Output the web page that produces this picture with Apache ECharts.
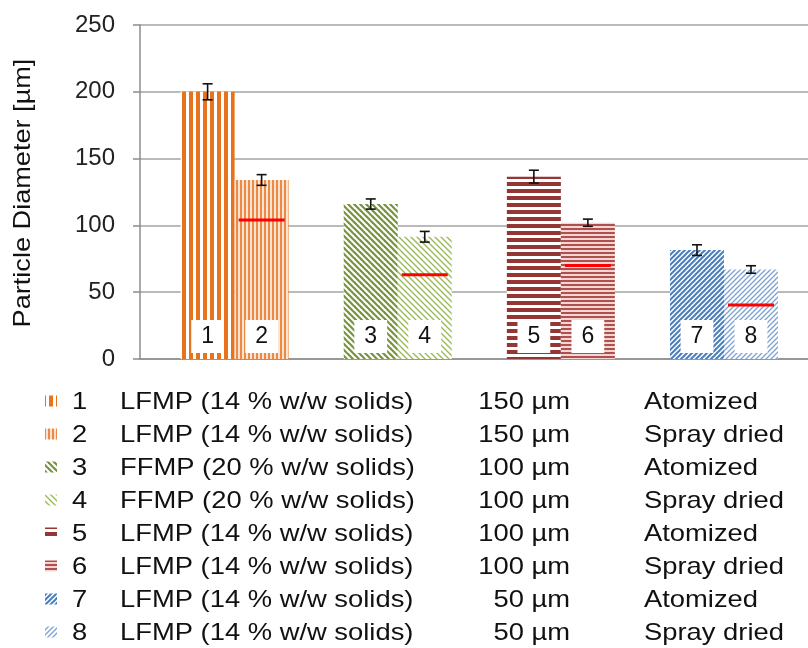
<!DOCTYPE html>
<html>
<head>
<meta charset="utf-8">
<script src="https://cdn.jsdelivr.net/npm/echarts@6/dist/echarts.min.js"></script>
<style>
html,body{margin:0;padding:0;background:#fff;}
#chart{width:808px;height:648px;}
</style>
</head>
<body>
<div id="chart"></div>
<script>
// ---- data ----
const groupIndex = [0, 1, 2, 3];
const atomized = [200, 116, 136.5, 81.5];
const sprayDried = [134, 91.5, 102, 67];
const atomizedErr = [6, 3.8, 4.8, 4];
const sprayDriedErr = [4, 4, 2.7, 2.8];
const redMarks = [104, 63, 70, 40.5];
const sampleIds = ['1', '2', '3', '4', '5', '6', '7', '8'];
const materials = ['LFMP (14 % w/w solids)', 'LFMP (14 % w/w solids)', 'FFMP (20 % w/w solids)', 'FFMP (20 % w/w solids)',
  'LFMP (14 % w/w solids)', 'LFMP (14 % w/w solids)', 'LFMP (14 % w/w solids)', 'LFMP (14 % w/w solids)'];
const nozzleSizes = ['150 µm', '150 µm', '100 µm', '100 µm', '100 µm', '100 µm', '50 µm', '50 µm'];
const processes = ['Atomized', 'Spray dried', 'Atomized', 'Spray dried', 'Atomized', 'Spray dried', 'Atomized', 'Spray dried'];
const yTicks = [0, 50, 100, 150, 200, 250];

// ---- pattern helpers (styles) ----
function stripes(dir, period, on, fg, bg) {
  const c = document.createElement('canvas');
  const ctx = c.getContext('2d');
  if (dir === 'v') { c.width = period; c.height = 2; }
  else { c.width = 2; c.height = period; }
  ctx.fillStyle = bg; ctx.fillRect(0, 0, c.width, c.height);
  ctx.fillStyle = fg;
  if (dir === 'v') ctx.fillRect(0, 0, on, 2); else ctx.fillRect(0, 0, 2, on);
  return { image: c, repeat: 'repeat' };
}
function diag(dir, P, lw, fg, bg) {
  const c = document.createElement('canvas');
  c.width = P; c.height = P;
  const ctx = c.getContext('2d');
  ctx.fillStyle = bg; ctx.fillRect(0, 0, P, P);
  ctx.strokeStyle = fg; ctx.lineWidth = lw;
  for (let k = -1; k <= 1; k++) {
    ctx.beginPath();
    if (dir === '\\') { ctx.moveTo(k * P - 1, -1); ctx.lineTo(k * P + P + 1, P + 1); }
    else { ctx.moveTo(k * P - 1, P + 1); ctx.lineTo(k * P + P + 1, -1); }
    ctx.stroke();
  }
  return { image: c, repeat: 'repeat' };
}
const patterns = [
  stripes('v', 7, 4, '#E8731E', '#ffffff'),
  stripes('v', 4, 2, '#EC8A45', '#FCE4D2'),
  diag('\\', 6, 2.2, '#77933C', '#ffffff'),
  diag('\\', 6, 1.4, '#9BBB59', '#ffffff'),
  stripes('h', 7, 4, '#943634', '#ffffff'),
  stripes('h', 4, 2, '#B0504D', '#F2D6D5'),
  diag('/', 5, 2.0, '#4A7EBB', '#ffffff'),
  diag('/', 5, 1.3, '#7EA3D3', '#ffffff')
];

const FONT = '"Liberation Sans", Arial, Helvetica, sans-serif';
const BAR_W = 54;

function barSeries(name, values, offset) {
  return {
    name: name,
    type: 'bar',
    barWidth: BAR_W,
    barGap: '0%',
    data: values.map((v, i) => ({
      value: [groupIndex[i], v],
      itemStyle: { color: patterns[i * 2 + offset] }
    })),
    label: {
      show: true,
      position: 'insideBottom',
      distance: 6,
      formatter: p => sampleIds[p.dataIndex * 2 + offset],
      backgroundColor: '#ffffff',
      padding: [4, 10, 3, 10],
      fontSize: 23,
      lineHeight: 26,
      color: '#111',
      fontFamily: FONT
    },
    z: 2
  };
}

const errData = [];
groupIndex.forEach((g, i) => {
  errData.push([g, atomized[i], atomizedErr[i], 0]);
  errData.push([g, sprayDried[i], sprayDriedErr[i], 1]);
});

// legend table graphics
const legendGraphics = [];
const ROW0 = 402.5, ROWH = 33;
sampleIds.forEach((id, i) => {
  const y = ROW0 + ROWH * i;
  const txt = (x, text, align) => ({
    type: 'text', x: x, y: y, scaleX: 1.14,
    style: { text: text, fill: '#111', fontSize: 24, fontFamily: FONT,
      align: align, textAlign: align, verticalAlign: 'middle', textVerticalAlign: 'middle' }
  });
  legendGraphics.push({
    type: 'rect', shape: { x: 45, y: y - 7, width: 12, height: 11 },
    style: { fill: patterns[i] }
  });
  legendGraphics.push(txt(72, id, 'left'));
  legendGraphics.push(txt(120, materials[i], 'left'));
  legendGraphics.push(txt(570, nozzleSizes[i], 'right'));
  legendGraphics.push(txt(644, processes[i], 'left'));
});
legendGraphics.push({
  type: 'text', x: 23, y: 193, rotation: Math.PI / 2, scaleX: 1.13,
  style: { text: 'Particle Diameter [µm]', fill: '#111', fontSize: 24, fontFamily: FONT,
    align: 'center', textAlign: 'center', verticalAlign: 'middle', textVerticalAlign: 'middle' }
});

const chart = echarts.init(document.getElementById('chart'), null, { renderer: 'canvas' });
chart.setOption({
  animation: false,
  backgroundColor: '#ffffff',
  grid: { left: 140, right: 0, top: 25, bottom: 289, containLabel: false },
  xAxis: {
    type: 'value',
    min: -0.58, max: 3.515,
    axisLine: { show: true, onZero: false, lineStyle: { color: '#8c8c8c', width: 1.5 } },
    axisTick: { show: false },
    axisLabel: { show: false },
    splitLine: { show: false }
  },
  yAxis: {
    type: 'value',
    min: yTicks[0], max: yTicks[yTicks.length - 1], interval: 50,
    axisLine: { show: true, onZero: false, lineStyle: { color: '#8c8c8c', width: 1.5 } },
    axisTick: { show: true, length: 7, lineStyle: { color: '#8c8c8c', width: 1.5 } },
    axisLabel: { fontSize: 24, color: '#222', fontFamily: FONT, margin: 25 },
    splitLine: { show: true, lineStyle: { color: '#a3a3a3', width: 1.5 } }
  },
  graphic: legendGraphics,
  series: [
    barSeries('Atomized', atomized, 0),
    barSeries('Spray dried', sprayDried, 1),
    {
      type: 'custom',
      name: 'marks',
      data: groupIndex.map((g, i) => [g, redMarks[i]]),
      z: 5,
      renderItem: (params, api) => {
        const p = api.coord([api.value(0), api.value(1)]);
        const cx = p[0] + BAR_W / 2;
        return { type: 'rect', shape: { x: cx - 23, y: p[1] - 1.5, width: 46, height: 3 },
          style: { fill: '#ff0000' } };
      }
    },
    {
      type: 'custom',
      name: 'errors',
      data: errData,
      z: 6,
      renderItem: (params, api) => {
        const g = api.value(0), v = api.value(1), e = api.value(2), s = api.value(3);
        const dx = s === 0 ? -BAR_W / 2 : BAR_W / 2;
        const t = api.coord([g, v + e]);
        const b = api.coord([g, v - e]);
        const x = t[0] + dx;
        const st = { stroke: '#111', lineWidth: 1.6 };
        return { type: 'group', children: [
          { type: 'line', shape: { x1: x, y1: t[1], x2: x, y2: b[1] }, style: st },
          { type: 'line', shape: { x1: x - 5, y1: t[1], x2: x + 5, y2: t[1] }, style: st },
          { type: 'line', shape: { x1: x - 5, y1: b[1], x2: x + 5, y2: b[1] }, style: st }
        ] };
      }
    }
  ]
});
</script>
</body>
</html>
